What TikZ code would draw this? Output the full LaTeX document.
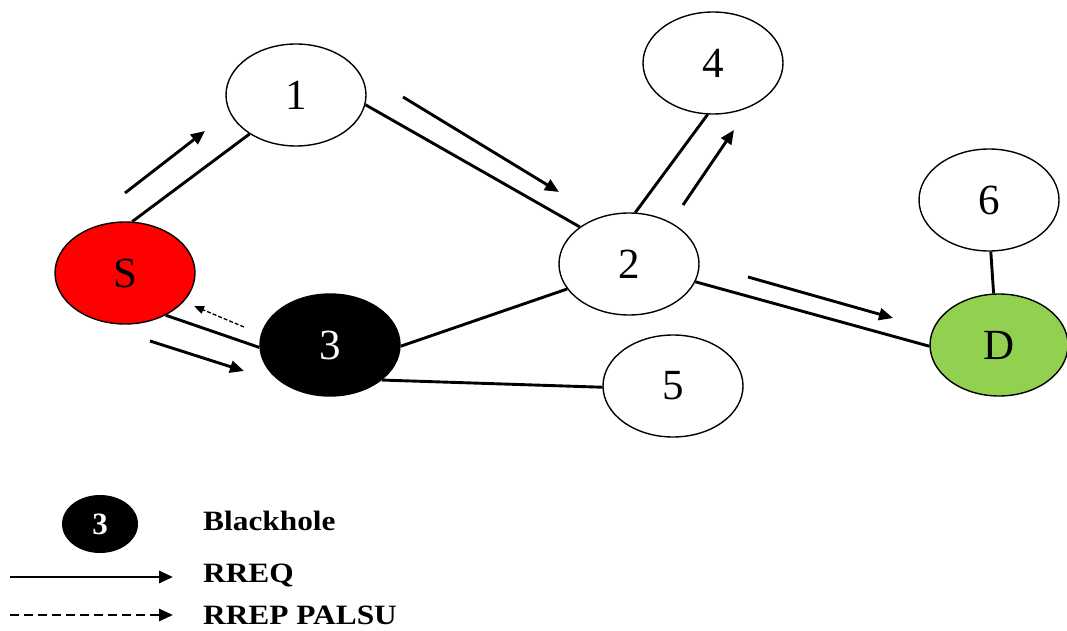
\documentclass[tikz,border=0pt]{standalone}
\usepackage{fontspec}
\usepackage{graphicx}
\setmainfont{Liberation Serif}
\usetikzlibrary{shapes.geometric,arrows.meta}
\definecolor{srcred}{RGB}{255,0,0}
\definecolor{dstgreen}{RGB}{146,208,80}
\begin{document}
\begin{tikzpicture}[x=1pt,y=-1pt,
  nd/.style={ellipse,draw=black,line width=1.4pt,minimum width=140pt,minimum height=102pt,inner sep=0pt,font=\fontsize{43}{43}\selectfont},
  link/.style={line width=2.9pt},
  flow/.style={line width=2.9pt,-{Triangle[length=14pt,width=12pt]}},
  fake/.style={line width=1.3pt,dash pattern=on 4pt off 2pt,-{Triangle[length=10pt,width=8pt]}},
  legdash/.style={line width=2.6pt,dash pattern=on 9pt off 5pt,-{Triangle[length=14pt,width=12pt]}},
  legtext/.style={anchor=west,inner sep=0pt,font=\bfseries\fontsize{28}{28}\selectfont}]
\useasboundingbox (0,0) rectangle (1067,631);

% nodes
\node[nd,fill=srcred] (S) at (125,273) {S};
\node[nd] (n1) at (296,95) {1};
\node[nd] (n4) at (713,63) {4};
\node[nd] (n2) at (629,264) {2};
\node[nd,fill=black,text=white] (n3) at (330,345) {3};
\node[nd] (n5) at (673,386) {5};
\node[nd] (n6) at (989,200) {6};
\node[nd,fill=dstgreen,minimum width=138pt] (D) at (999,345) {D};

% links
\draw[link] (S.82) -- (n1.220);
\draw[link] (n1.352) -- (n2.143);
\draw[link] (n2.83) -- (n4.264);
\draw[link] (n2.345) -- (D.181);
\draw[link] (n6.272) -- (D.96);
\draw[link] (S.314) -- (n3.182);
\draw[link] (n3.359) -- (n2.202);
\draw[link] (n3.326) -- (n5.181);

% flow arrows
\coordinate (a1s) at (125,193); \coordinate (a1e) at (205,131);
\coordinate (a2s) at (403,97);  \coordinate (a2e) at (559,192);
\coordinate (a3s) at (683,205); \coordinate (a3e) at (734,130);
\coordinate (a4s) at (748,277); \coordinate (a4e) at (893,318);
\coordinate (a5s) at (150,341); \coordinate (a5e) at (244,371);
\coordinate (fks) at (244,327); \coordinate (fke) at (194,306);
\draw[flow] (a1s) -- (a1e);
\draw[flow] (a2s) -- (a2e);
\draw[flow] (a3s) -- (a3e);
\draw[flow] (a4s) -- (a4e);
\draw[flow] (a5s) -- (a5e);
\draw[fake] (fks) -- (fke);

% legend
\node[ellipse,fill=black,text=white,minimum width=76pt,minimum height=58pt,inner sep=0pt,font=\bfseries\fontsize{31}{31}\selectfont] (lg) at (100,524) {3};
\node[legtext] (t1) at (203,521) {\scalebox{1.12}[1]{Blackhole}};
\node[legtext] (t2) at (203,575) {\scalebox{1.12}[1]{RREQ}};
\node[legtext] (t3) at (203,615) {\scalebox{1.12}[1]{RREP PALSU}};
\coordinate (l1s) at (10,577); \coordinate (l1e) at (173,577);
\coordinate (l2s) at (10,615); \coordinate (l2e) at (173,615);
\draw[flow] (l1s) -- (l1e);
\draw[legdash] (l2s) -- (l2e);
\end{tikzpicture}
\end{document}
